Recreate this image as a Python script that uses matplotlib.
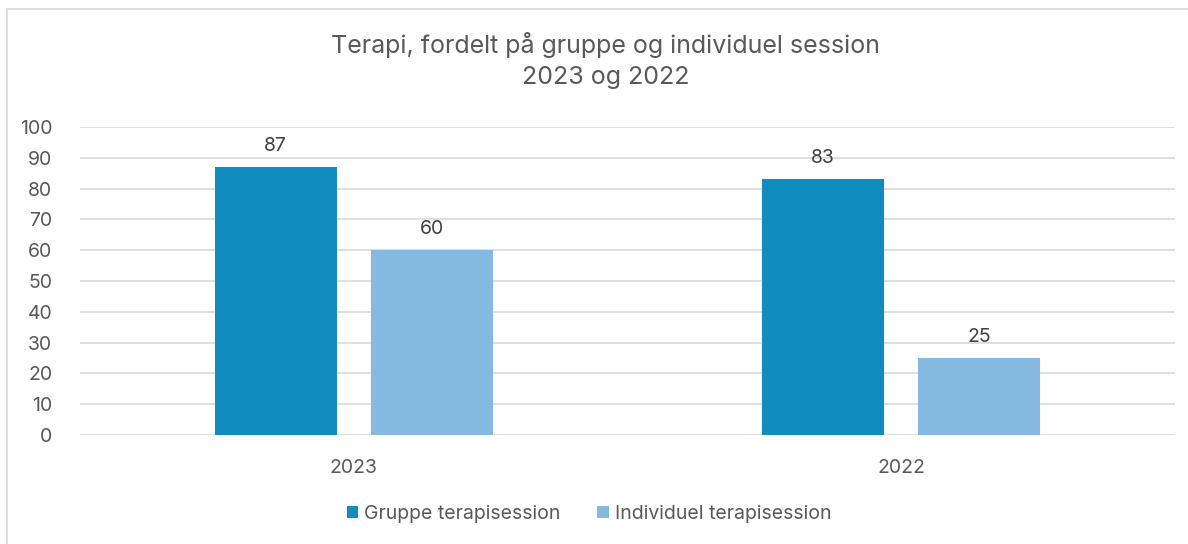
import matplotlib
matplotlib.use("Agg")
import matplotlib.pyplot as plt
import numpy as np
from matplotlib.patches import Rectangle

categories = ["2023", "2022"]
series_names = ["Gruppe terapisession", "Individuel terapisession"]
gruppe = [87, 83]
individuel = [60, 25]
colors = ["#108CBE", "#85B9E0"]
yticks = [0, 10, 20, 30, 40, 50, 60, 70, 80, 90, 100]

plt.rcParams['font.family'] = ['Inter', 'DejaVu Sans']
txt = "#595959"

fig = plt.figure(figsize=(11.88, 5.44), dpi=100)
fig.patches.append(Rectangle((7/1188, -0.1), 1.2, 1 - 9/544 + 0.1, transform=fig.transFigure,
                             fill=False, edgecolor="#D9D9D9", linewidth=1.2))
ax = fig.add_axes([80/1188, 1 - 435/544, (1175 - 80)/1188, (435 - 127)/544])

x = np.arange(len(categories))
w = 0.223
off = 0.1425
b1 = ax.bar(x - off, gruppe, w, color=colors[0], label=series_names[0], zorder=3)
b2 = ax.bar(x + off, individuel, w, color=colors[1], label=series_names[1], zorder=3)
for bars, vals in ((b1, gruppe), (b2, individuel)):
    for r, v in zip(bars, vals):
        ax.annotate(str(v), (r.get_x() + r.get_width()/2, v), xytext=(0, 9),
                    textcoords="offset points", ha="center", va="bottom",
                    fontsize=14, color="#404040")

ax.set_xlim(-0.5, 1.5)
ax.set_ylim(0, 100)
ax.set_yticks(yticks)
ax.set_xticks(x)
ax.set_xticklabels(categories)
ax.grid(axis="y", color="#D9D9D9", linewidth=1.2, zorder=0)
for s in ax.spines.values():
    s.set_visible(False)
ax.tick_params(axis="both", length=0, labelsize=14, labelcolor=txt)
ax.tick_params(axis="y", pad=20)
ax.tick_params(axis="x", pad=17)
for lbl in ax.get_yticklabels():
    lbl.set_horizontalalignment("right")

fig.text(605/1188, 1 - 45/544, "Terapi, fordelt på gruppe og individuel session",
         ha="center", va="center", fontsize=18, color=txt)
fig.text(606/1188, 1 - 78/544, "2023 og 2022",
         ha="center", va="center", fontsize=18, color=txt)

fig.legend(loc="center", bbox_to_anchor=(589/1188, 1 - 514/544), ncol=2, frameon=False,
           fontsize=14, labelcolor=txt, handlelength=0.6, handleheight=0.6,
           handletextpad=0.3, columnspacing=1.9)

fig.savefig("out.png", dpi=100, facecolor="white")
